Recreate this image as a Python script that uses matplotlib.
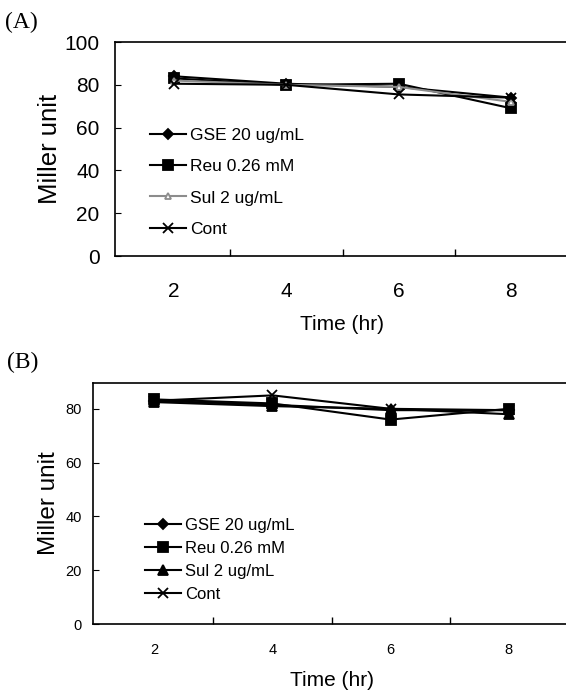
import matplotlib
matplotlib.use('Agg')
import matplotlib.pyplot as plt
import numpy as np

# Time points (hr) and Miller unit values
times = ['2', '4', '6', '8']
series_names = ['GSE 20 ug/mL', 'Reu 0.26 mM', 'Sul 2 ug/mL', 'Cont']

# Panel A
a_gse = [84, 80.5, 79, 74]
a_reu = [83, 80, 80.5, 69]
a_sul = [82, 80, 79, 72]
a_cont = [80.5, 80, 75.5, 74]

# Panel B
b_gse = [83, 81.5, 79.5, 79.5]
b_reu = [83.5, 82, 76, 80]
b_sul = [82.5, 81, 80, 78]
b_cont = [83, 85, 80, 79.5]

plt.rcParams['font.family'] = ['Liberation Sans', 'DejaVu Sans']

fig = plt.figure(figsize=(5.66, 6.90), dpi=100)

# styles: marker, markersize, color, markerfacecolor
styles = [('D', 5.5, 'black', 'black'),
          ('s', 6.5, 'black', 'black'),
          ('^', 5, '0.55', 'white'),
          ('x', 7, 'black', 'black')]


def draw_panel(ax, data, sul_style, tick_fs, xpad, ylim, yticks, ylab_fs, ylab_pad,
               leg_fs, leg_spacing, leg_loc):
    x = np.arange(len(times))
    for i, (vals, name) in enumerate(zip(data, series_names)):
        m, ms, c, mfc = styles[i]
        if i == 2:
            m, ms, c, mfc = sul_style
        ax.plot(x, vals, marker=m, markersize=ms, color=c, markerfacecolor=mfc,
                markeredgecolor=c, lw=1.5, label=name, markeredgewidth=1.3)
    ax.set_xlim(-0.52, 3.52)
    ax.set_ylim(*ylim)
    ax.set_yticks(yticks)
    ax.set_xticks(x)
    ax.set_xticklabels(times)
    ax.set_xticks([0.5, 1.5, 2.5], minor=True)
    ax.tick_params(axis='x', which='major', length=0, labelsize=tick_fs, pad=xpad)
    ax.tick_params(axis='x', which='minor', direction='in', length=5, width=1)
    ax.tick_params(axis='y', direction='in', length=4, labelsize=tick_fs,
                   pad=11 if tick_fs > 12 else 8)
    for s in ax.spines.values():
        s.set_linewidth(1.2)
    ax.set_ylabel('Miller unit', fontsize=ylab_fs, labelpad=ylab_pad)
    ax.set_xlabel('Time (hr)', fontsize=15, labelpad=10)
    ax.legend(loc='upper left', bbox_to_anchor=leg_loc, frameon=False, fontsize=leg_fs,
              handlelength=36 / (leg_fs * 1.39), handletextpad=0.25,
              labelspacing=leg_spacing, borderaxespad=0)


axA = fig.add_axes([115 / 566, 1 - 256 / 690, 455 / 566, 214 / 690])
draw_panel(axA, [a_gse, a_reu, a_sul, a_cont], ('^', 5, '0.55', 'white'), 15, 19,
           (0, 100), [0, 20, 40, 60, 80, 100], 18.5, 2, 12.5, 0.92, (0.062, 0.63))

axB = fig.add_axes([93 / 566, 1 - 624 / 690, 477 / 566, 241 / 690])
draw_panel(axB, [b_gse, b_reu, b_sul, b_cont], ('^', 6.5, 'black', 'black'), 10.5, 14,
           (0, 89.6), [0, 20, 40, 60, 80], 17.5, 4, 12, 0.48, (0.095, 0.468))

fig.text(0.008, 0.968, '(A)', fontsize=17, family='Liberation Serif', va='center')
fig.text(0.012, 0.474, '(B)', fontsize=17, family='Liberation Serif', va='center')

fig.savefig('out.png', dpi=100)
